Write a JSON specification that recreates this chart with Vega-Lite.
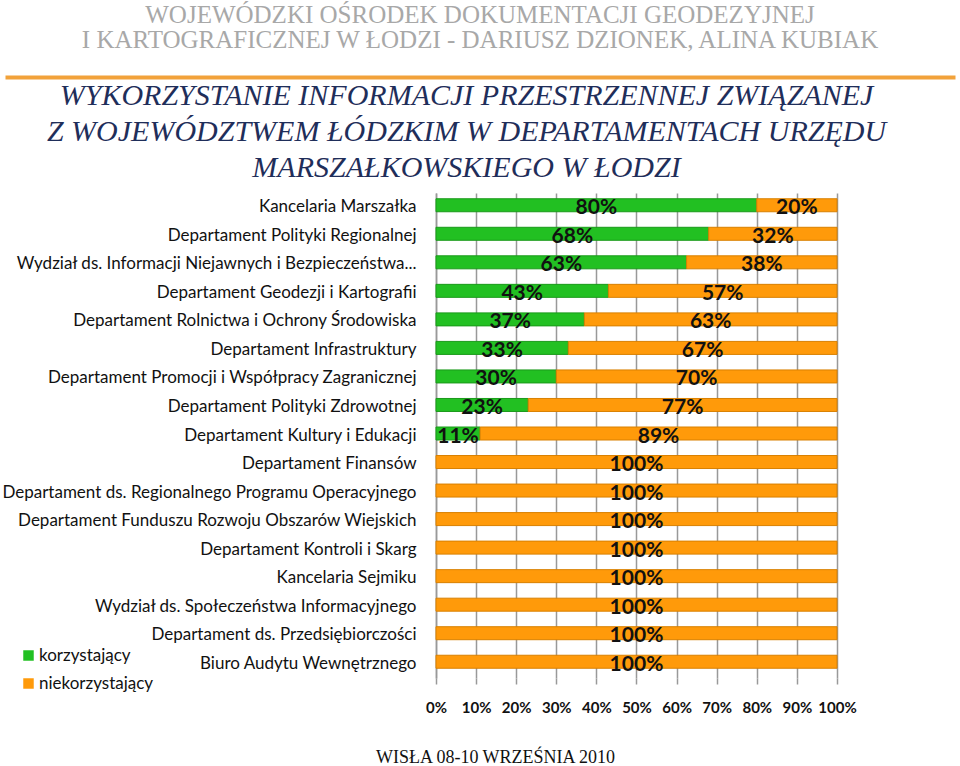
{
  "$schema": "https://vega.github.io/schema/vega-lite/v6.json",
  "width": 950,
  "height": 485,
  "autosize": {"type": "none"},
  "padding": {"left": 5, "right": 5, "top": 193, "bottom": 88},
  "background": "white",
  "config": {"view": {"stroke": null}},
  "title": {
    "text": ["WOJEWÓDZKI OŚRODEK DOKUMENTACJI GEODEZYJNEJ", "I KARTOGRAFICZNEJ W ŁODZI - DARIUSZ DZIONEK,  ALINA KUBIAK"],
    "font": "Liberation Serif",
    "fontSize": 25,
    "fontWeight": "normal",
    "color": "#A8A8A8",
    "lineHeight": 25,
    "anchor": "middle",
    "frame": "group",
    "offset": 24
  },
  "data": {
    "values": [
      {"dept": "Kancelaria Marszałka", "group": "korzystający", "value": 80},
      {"dept": "Kancelaria Marszałka", "group": "niekorzystający", "value": 20},
      {"dept": "Departament Polityki Regionalnej", "group": "korzystający", "value": 68},
      {"dept": "Departament Polityki Regionalnej", "group": "niekorzystający", "value": 32},
      {"dept": "Wydział ds. Informacji Niejawnych i Bezpieczeństwa...", "group": "korzystający", "value": 62.5},
      {"dept": "Wydział ds. Informacji Niejawnych i Bezpieczeństwa...", "group": "niekorzystający", "value": 37.5},
      {"dept": "Departament Geodezji i Kartografii", "group": "korzystający", "value": 43},
      {"dept": "Departament Geodezji i Kartografii", "group": "niekorzystający", "value": 57},
      {"dept": "Departament Rolnictwa i Ochrony Środowiska", "group": "korzystający", "value": 37},
      {"dept": "Departament Rolnictwa i Ochrony Środowiska", "group": "niekorzystający", "value": 63},
      {"dept": "Departament Infrastruktury", "group": "korzystający", "value": 33},
      {"dept": "Departament Infrastruktury", "group": "niekorzystający", "value": 67},
      {"dept": "Departament Promocji i Współpracy Zagranicznej", "group": "korzystający", "value": 30},
      {"dept": "Departament Promocji i Współpracy Zagranicznej", "group": "niekorzystający", "value": 70},
      {"dept": "Departament Polityki Zdrowotnej", "group": "korzystający", "value": 23},
      {"dept": "Departament Polityki Zdrowotnej", "group": "niekorzystający", "value": 77},
      {"dept": "Departament Kultury i Edukacji", "group": "korzystający", "value": 11},
      {"dept": "Departament Kultury i Edukacji", "group": "niekorzystający", "value": 89},
      {"dept": "Departament Finansów", "group": "korzystający", "value": 0},
      {"dept": "Departament Finansów", "group": "niekorzystający", "value": 100},
      {"dept": "Departament ds. Regionalnego Programu Operacyjnego", "group": "korzystający", "value": 0},
      {"dept": "Departament ds. Regionalnego Programu Operacyjnego", "group": "niekorzystający", "value": 100},
      {"dept": "Departament Funduszu Rozwoju Obszarów Wiejskich", "group": "korzystający", "value": 0},
      {"dept": "Departament Funduszu Rozwoju Obszarów Wiejskich", "group": "niekorzystający", "value": 100},
      {"dept": "Departament Kontroli i Skarg", "group": "korzystający", "value": 0},
      {"dept": "Departament Kontroli i Skarg", "group": "niekorzystający", "value": 100},
      {"dept": "Kancelaria Sejmiku", "group": "korzystający", "value": 0},
      {"dept": "Kancelaria Sejmiku", "group": "niekorzystający", "value": 100},
      {"dept": "Wydział ds. Społeczeństwa Informacyjnego", "group": "korzystający", "value": 0},
      {"dept": "Wydział ds. Społeczeństwa Informacyjnego", "group": "niekorzystający", "value": 100},
      {"dept": "Departament ds. Przedsiębiorczości", "group": "korzystający", "value": 0},
      {"dept": "Departament ds. Przedsiębiorczości", "group": "niekorzystający", "value": 100},
      {"dept": "Biuro Audytu Wewnętrznego", "group": "korzystający", "value": 0},
      {"dept": "Biuro Audytu Wewnętrznego", "group": "niekorzystający", "value": 100}
    ]
  },
  "resolve": {"axis": {"x": "independent", "y": "independent"}},
  "layer": [
    {
      "transform": [{"filter": "datum.value > 0"}],
      "mark": {"type": "bar", "height": 13, "yOffset": -2, "strokeWidth": 1},
      "encoding": {
        "y": {
          "field": "dept", "type": "nominal", "sort": null,
          "scale": {"paddingInner": 0, "paddingOuter": 0},
          "axis": {
            "orient": "left", "offset": -431, "domain": true, "domainColor": "#999999", "domainWidth": 1.5,
            "ticks": false, "tickSize": 0, "labelPadding": 20, "labelLimit": 600,
            "labelFont": "Lato", "labelFontSize": 17, "labelColor": "#111111",
            "title": ["WYKORZYSTANIE INFORMACJI PRZESTRZENNEJ ZWIĄZANEJ", "Z WOJEWÓDZTWEM ŁÓDZKIM W DEPARTAMENTACH URZĘDU", "MARSZAŁKOWSKIEGO W ŁODZI"],
            "titleAngle": 0, "titleAlign": "center", "titleBaseline": "top",
            "titleX": 30, "titleY": -113,
            "titleFont": "Liberation Serif", "titleFontStyle": "italic", "titleFontWeight": "normal",
            "titleFontSize": 30, "titleLineHeight": 36, "titleColor": "#1F2E5A"
          }
        },
        "x": {
          "field": "value", "type": "quantitative", "stack": "zero",
          "scale": {"domain": [-107.48, 129.43], "nice": false, "zero": false},
          "axis": {
            "orient": "bottom", "values": [0, 10, 20, 30, 40, 50, 60, 70, 80, 90, 100],
            "labelExpr": "datum.value + '%'", "domain": false,
            "grid": true, "gridColor": "#999999", "gridWidth": 1.5, "gridOpacity": 1,
            "ticks": true, "tickColor": "#999999", "tickWidth": 1.5, "tickSize": 6,
            "labelFont": "Lato", "labelFontSize": 15, "labelFontWeight": "bold", "labelColor": "#111111",
            "labelPadding": 16, "labelFlush": false,
            "title": "WISŁA 08-10 WRZEŚNIA 2010", "titleFont": "Liberation Serif",
            "titleFontSize": 18, "titleFontWeight": "normal", "titleColor": "#111111",
            "titlePadding": 33, "titleX": 490
          }
        },
        "color": {
          "field": "group", "type": "nominal",
          "scale": {"domain": ["korzystający", "niekorzystający"], "range": ["#22C022", "#FF9A0A"]},
          "legend": {
            "orient": "none", "legendX": 15, "legendY": 454, "title": null,
            "symbolType": "square", "symbolSize": 110, "symbolStrokeWidth": 0,
            "labelFont": "Lato", "labelFontSize": 17, "labelColor": "#111111",
            "rowPadding": 10, "labelOffset": 2
          }
        },
        "stroke": {
          "field": "group", "type": "nominal",
          "scale": {"domain": ["korzystający", "niekorzystający"], "range": ["#1A9A1A", "#D98000"]},
          "legend": null
        }
      }
    },
    {
      "transform": [
        {"stack": "value", "groupby": ["dept"], "sort": [{"field": "group", "order": "ascending"}], "as": ["v0", "v1"]},
        {"calculate": "(datum.v0 + datum.v1) / 2", "as": "mid"},
        {"calculate": "format(datum.value, '.0f') + '%'", "as": "lbl"},
        {"filter": "datum.value > 0"}
      ],
      "mark": {"type": "text", "font": "Lato", "fontSize": 21, "fontWeight": "bold", "color": "#111111", "baseline": "middle", "dy": 1},
      "encoding": {
        "y": {"field": "dept", "type": "nominal", "sort": null, "axis": null},
        "x": {
          "field": "mid", "type": "quantitative",
          "axis": {
            "orient": "top", "offset": 116, "labels": false, "ticks": false, "grid": false,
            "domain": true, "domainColor": "#F2A23A", "domainWidth": 4, "title": null
          }
        },
        "text": {"field": "lbl"}
      }
    }
  ]
}
